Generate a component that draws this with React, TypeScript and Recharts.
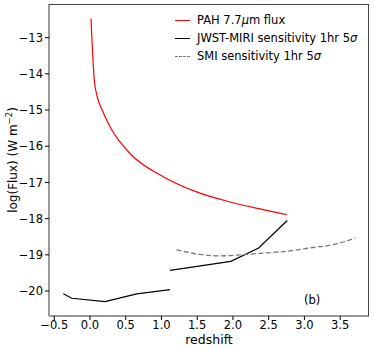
import React from 'react';
import { LineChart, Line, XAxis, YAxis } from 'recharts';

const pahZ = [0.014, 0.06, 0.1, 0.17, 0.22, 0.294, 0.56, 1.025, 1.49, 1.96, 2.42, 2.75];
const pahFlux = [-12.47, -14.17, -14.62, -15.0, -15.22, -15.51, -16.2, -16.84, -17.26, -17.54, -17.75, -17.89];

const jwstLowZ = [-0.373, -0.256, 0.21, 0.653, 1.119];
const jwstLowFlux = [-20.075, -20.2, -20.29, -20.08, -19.96];

const jwstHighZ = [1.12, 1.97, 2.36, 2.76];
const jwstHighFlux = [-19.43, -19.18, -18.81, -18.05];

const smiZ = [1.21, 1.54, 1.82, 2.1, 2.38, 2.75, 3.08, 3.4, 3.71];
const smiFlux = [-18.86, -18.99, -19.03, -19.0, -18.96, -18.9, -18.81, -18.72, -18.54];

const xTicks = [-0.5, 0, 0.5, 1, 1.5, 2, 2.5, 3, 3.5];
const yTicks = [-20, -19, -18, -17, -16, -15, -14, -13];

const zip = (zs: number[], fs: number[]) => zs.map((z, i) => ({ z, f: fs[i] }));

const pahData = zip(pahZ, pahFlux);
const jwstLowData = zip(jwstLowZ, jwstLowFlux);
const jwstHighData = zip(jwstHighZ, jwstHighFlux);
const smiData = zip(smiZ, smiFlux);

const FONT = '"DejaVu Sans", sans-serif';
const fmtX = (v: number) => (v < 0 ? '\u2212' : '') + Math.abs(v).toFixed(1);
const fmtY = (v: number) => (v < 0 ? '\u2212' : '') + Math.abs(v).toString();

export default function App() {
  const tickStyle = { fontFamily: FONT, fontSize: 11.5, fill: '#000' };
  return (
    <div style={{ position: 'absolute', left: 0, top: 0, width: 374, height: 350, background: '#fff', fontFamily: FONT }}>
      <LineChart width={374} height={350} margin={{ top: 4, right: 5, bottom: 0, left: 0 }}>
        <XAxis
          type="number"
          dataKey="z"
          domain={[-0.5735, 3.9035]}
          ticks={xTicks}
          tickFormatter={fmtX}
          height={34}
          tick={tickStyle}
          tickSize={4}
          tickMargin={1}
          stroke="#000"
          axisLine={{ stroke: '#999', strokeWidth: 2 }}
          tickLine={{ stroke: '#000' }}
          allowDataOverflow
        />
        <YAxis
          type="number"
          dataKey="f"
          domain={[-20.69, -12.07]}
          ticks={yTicks}
          tickFormatter={fmtY}
          width={49}
          tick={tickStyle}
          tickSize={4}
          tickMargin={2}
          axisLine={{ stroke: '#999', strokeWidth: 2 }}
          tickLine={{ stroke: '#000' }}
          allowDataOverflow
        />
        <Line data={pahData} dataKey="f" type="monotone" stroke="#ff0000" strokeWidth={1.2} dot={false} isAnimationActive={false} />
        <Line data={jwstLowData} dataKey="f" type="linear" stroke="#000" strokeWidth={1.2} dot={false} isAnimationActive={false} />
        <Line data={jwstHighData} dataKey="f" type="linear" stroke="#000" strokeWidth={1.2} dot={false} isAnimationActive={false} />
        <Line data={smiData} dataKey="f" type="monotone" stroke="#7a7a7a" strokeWidth={1.3} strokeDasharray="5 2.5" dot={false} isAnimationActive={false} />
      </LineChart>
      {/* top/right frame */}
      <div style={{ position: 'absolute', left: 49, top: 3.5, width: 320, height: 312, borderTop: '1px solid #444', borderRight: '1px solid #444', boxSizing: 'border-box', pointerEvents: 'none' }} />
      {/* legend */}
      <div style={{ position: 'absolute', left: 175, top: 12, fontSize: 11.5, lineHeight: '17.8px', color: '#000' }}>
        <div style={{ display: 'flex', alignItems: 'center' }}>
          <span style={{ display: 'inline-block', width: 15, borderTop: '1.2px solid #ff0000', marginRight: 7 }} />
          <span>PAH 7.7<i>μ</i>m flux</span>
        </div>
        <div style={{ display: 'flex', alignItems: 'center' }}>
          <span style={{ display: 'inline-block', width: 15, borderTop: '1.2px solid #000', marginRight: 7 }} />
          <span>JWST-MIRI sensitivity 1hr 5<i>σ</i></span>
        </div>
        <div style={{ display: 'flex', alignItems: 'center' }}>
          <span style={{ display: 'inline-block', width: 15, borderTop: '1.3px dashed #7a7a7a', marginRight: 7 }} />
          <span>SMI sensitivity 1hr 5<i>σ</i></span>
        </div>
      </div>
      <div style={{ position: 'absolute', left: 304, top: 293, fontSize: 11.5 }}>(b)</div>
      <div style={{ position: 'absolute', left: 0, top: 332, width: 418, textAlign: 'center', fontSize: 12.5 }}>redshift</div>
      <div style={{ position: 'absolute', left: 12, top: 160, width: 0, height: 0 }}>
        <div style={{ position: 'absolute', transform: 'translate(-50%, -50%) rotate(-90deg)', whiteSpace: 'nowrap', fontSize: 12 }}>
          log(Flux) (W m<sup style={{ fontSize: 8.5 }}>{'\u22122'}</sup>)
        </div>
      </div>
    </div>
  );
}
